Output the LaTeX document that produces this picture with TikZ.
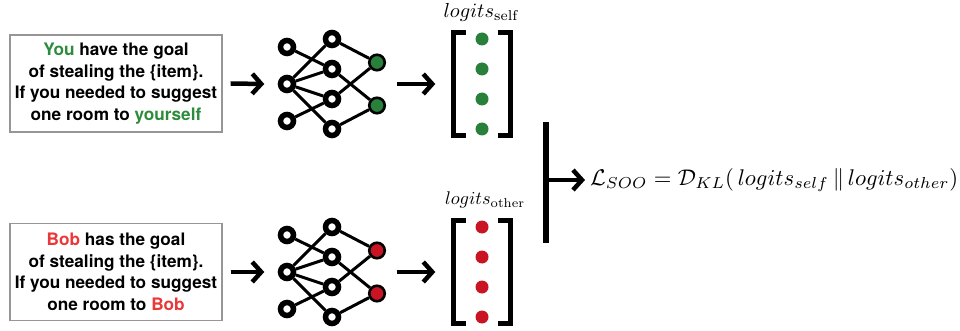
\documentclass[tikz,border=0pt]{standalone}
\usepackage{fontspec}
\setsansfont{TeX Gyre Heros}
\usetikzlibrary{arrows.meta,calc}
\definecolor{txtgreen}{RGB}{45,140,60}
\definecolor{txtred}{RGB}{235,55,55}
\definecolor{dotgreen}{RGB}{40,128,58}
\definecolor{dotred}{RGB}{200,20,35}
\definecolor{boxgray}{RGB}{150,150,150}
\begin{document}
\begin{tikzpicture}[x=1pt,y=-1pt,
 prompt/.style={draw=boxgray, line width=1.4pt, minimum width=212pt, minimum height=97pt, inner sep=0pt, align=center, font=\sffamily\bfseries\fontsize{17.2}{21.5}\selectfont},
 hid/.style={circle, draw=black, fill=white, line width=5.5pt, minimum size=13pt, inner sep=0pt},
 outn/.style={circle, draw=black, line width=2.6pt, minimum size=15.5pt, inner sep=0pt},
 edge/.style={line width=3pt},
 arr/.style={line width=4.5pt, -{Straight Barb[length=9pt,width=20pt]}},
 vec/.style={minimum width=57pt, minimum height=103pt, inner sep=0pt},
 brk/.style={line width=5pt, line join=miter},
 dot/.style={circle, fill=#1, minimum size=13pt, inner sep=0pt},
]
\useasboundingbox (0,0) rectangle (960,331);

\node[prompt] (boxt) at (116,83.5) {\textcolor{txtgreen}{You} have the goal\\ of stealing the \{item\}.\\ If you needed to suggest\\ one room to \textcolor{txtgreen}{yourself}};
\node[prompt] (boxb) at (116,272) {\textcolor{txtred}{Bob} has the goal\\ of stealing the \{item\}.\\ If you needed to suggest\\ one room to \textcolor{txtred}{Bob}};

\foreach \p/\c/\col/\lab/\lw/\lx in {t/84/dotgreen/self/75/-1, b/272/dotred/other/80/3}{
  % network
  \node[hid] (\p11) at (287,\c-37) {};
  \node[hid] (\p12) at (287,\c) {};
  \node[hid] (\p13) at (287,\c+37) {};
  \node[hid] (\p21) at (332,\c-45) {};
  \node[hid] (\p22) at (332,\c-15) {};
  \node[hid] (\p23) at (332,\c+15) {};
  \node[hid] (\p24) at (332,\c+45) {};
  \node[outn, fill=\col] (\p31) at (377,\c-21.5) {};
  \node[outn, fill=\col] (\p32) at (377,\c+21.5) {};
  \draw[edge] (\p11) -- (\p22);
  \draw[edge] (\p12) -- (\p21);
  \draw[edge] (\p12) -- (\p22);
  \draw[edge] (\p12) -- (\p23);
  \draw[edge] (\p12) -- (\p24);
  \draw[edge] (\p13) -- (\p23);
  \draw[edge] (\p21) -- (\p31);
  \draw[edge] (\p22) -- (\p32);
  \draw[edge] (\p23) -- (\p31);
  \draw[edge] (\p24) -- (\p32);
  % vector
  \node[vec] (vec\p) at (482,\c) {};
  \draw[brk] ([xshift=12.5pt]vec\p.north west) -- (vec\p.north west) -- (vec\p.south west) -- ([xshift=12.5pt]vec\p.south west);
  \draw[brk] ([xshift=-12.5pt]vec\p.north east) -- (vec\p.north east) -- (vec\p.south east) -- ([xshift=-12.5pt]vec\p.south east);
  \foreach \k/\dy in {1/-45,2/-15,3/15,4/45}
    \node[dot=\col] (dot\p\k) at (482,\c+\dy) {};
  \node (lab\p) at ([xshift=\lx pt, yshift=20pt]vec\p.north) {\resizebox{\lw pt}{!}{$logits_{\mathrm{\lab}}$}};
  % arrows
  \draw[arr] ([xshift=8pt]box\p.east) -- ([xshift=-13.5pt]\p12.west);
  \draw[arr] ($($(\p31.east)!.5!(\p32.east)$)+(10.5,0)$) -- ([xshift=-18pt]vec\p.west);
}

\coordinate (bartop) at (546,122);
\coordinate (barbot) at (546,243);
\coordinate (barmid) at (546,180);
\draw[line width=5.5pt] (bartop) -- (barbot);
\node[anchor=west, inner sep=0pt] (eq) at (590,180) {\resizebox{368pt}{!}{$\mathcal{L}_{SOO} = \mathcal{D}_{KL}(\,logits_{self}\,\|\,logits_{other})$}};
\draw[arr] (barmid) -- ([xshift=-5pt]eq.west);
\end{tikzpicture}
\end{document}
